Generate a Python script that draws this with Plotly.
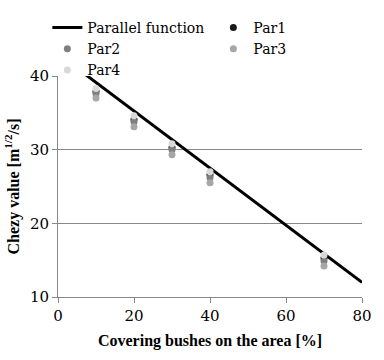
import plotly.graph_objects as go

x_cover = [10, 20, 30, 40, 70]
par1 = [37.9, 34.1, 30.3, 26.6, 15.3]
par2 = [37.6, 33.8, 30.0, 26.2, 14.9]
par3 = [37.0, 33.1, 29.3, 25.5, 14.2]
par4 = [38.3, 34.6, 30.8, 27.0, 15.7]
line_x = [0, 80]
line_y = [43.0, 12.0]

bold_font = "Liberation Serif"
reg_font = "DejaVu Serif"
fig = go.Figure()
fig.add_trace(go.Scatter(x=line_x, y=line_y, mode="lines", name="Parallel function",
                         line=dict(color="black", width=3), legend="legend"))
fig.add_trace(go.Scatter(x=x_cover, y=par1, mode="markers", name="Par1",
                         marker=dict(color="#1a1a1a", size=7), legend="legend2"))
fig.add_trace(go.Scatter(x=x_cover, y=par2, mode="markers", name="Par2",
                         marker=dict(color="#7f7f7f", size=7), legend="legend"))
fig.add_trace(go.Scatter(x=x_cover, y=par3, mode="markers", name="Par3",
                         marker=dict(color="#a6a6a6", size=7), legend="legend2"))
fig.add_trace(go.Scatter(x=x_cover, y=par4, mode="markers", name="Par4",
                         marker=dict(color="#d9d9d9", size=7), legend="legend"))

leg = dict(xanchor="left", yanchor="top", y=1.29,
           font=dict(family=reg_font, size=14, color="black"),
           bgcolor="rgba(0,0,0,0)", tracegroupgap=0, borderwidth=0)

fig.update_layout(
    width=384, height=360,
    margin=dict(l=58, r=13, t=76, b=63),
    plot_bgcolor="white", paper_bgcolor="white",
    font=dict(family=reg_font, size=15, color="black"),
    showlegend=True,
    legend=dict(leg, x=-0.035),
    legend2=dict(leg, x=0.511),
    xaxis=dict(range=[0, 80], tickvals=[0, 20, 40, 60, 80], showgrid=False,
               showline=True, linecolor="#888888", linewidth=1,
               ticks="outside", tickcolor="#888888", ticklen=5,
               zeroline=False, tickfont=dict(family=reg_font, size=15),
               title=dict(text="<b>Covering bushes on the area [%]</b>",
                          font=dict(family=bold_font, size=16), standoff=10)),
    yaxis=dict(range=[10, 40], tickvals=[10, 20, 30, 40], showgrid=True,
               gridcolor="#888888", gridwidth=1,
               showline=True, linecolor="#888888", linewidth=1,
               ticks="outside", tickcolor="#888888", ticklen=5,
               zeroline=False, tickfont=dict(family=reg_font, size=15),
               title=dict(text="<b>Chezy value [m<sup>1/2</sup>/s]</b>",
                          font=dict(family=bold_font, size=16), standoff=6)),
)
fig.write_html("out.html")
